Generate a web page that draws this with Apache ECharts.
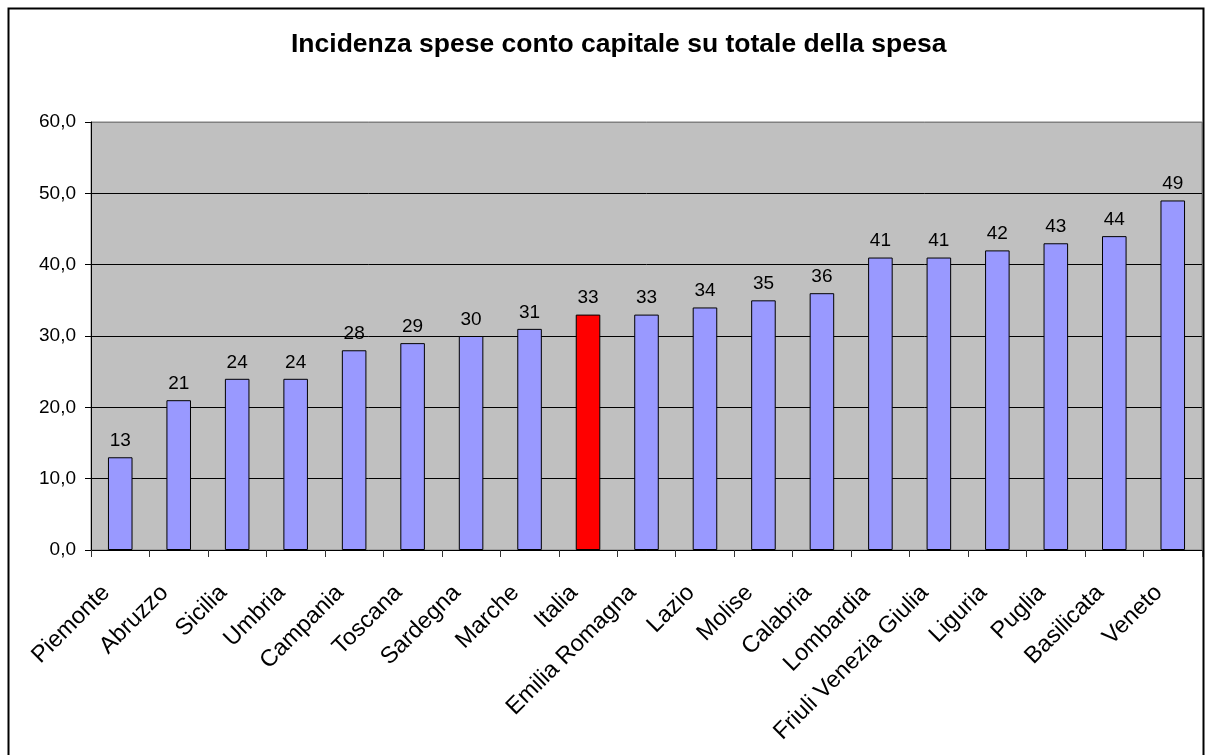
<!DOCTYPE html>
<html>
<head>
<meta charset="utf-8">
<script src="https://cdn.jsdelivr.net/npm/echarts@6/dist/echarts.min.js"></script>
<style>
html,body{margin:0;padding:0;background:#fff;}
#chart{width:1206px;height:755px;}
</style>
</head>
<body>
<div id="chart"></div>
<script>
const titleText = 'Incidenza spese conto capitale su totale della spesa';
const categories = ['Piemonte','Abruzzo','Sicilia','Umbria','Campania','Toscana','Sardegna','Marche','Italia','Emilia Romagna','Lazio','Molise','Calabria','Lombardia','Friuli Venezia Giulia','Liguria','Puglia','Basilicata','Veneto'];
const values = [13,21,24,24,28,29,30,31,33,33,34,35,36,41,41,42,43,44,49];
const highlighted = ['Italia'];

const chart = echarts.init(document.getElementById('chart'));
const font = 'Liberation Sans, Arial, sans-serif';
chart.setOption({
  animation: false,
  backgroundColor: '#fff',
  title: {
    text: titleText,
    left: 286,
    top: 26,
    textStyle: {fontFamily: font, fontSize: 26.5, fontWeight: 'bold', color: '#000'}
  },
  graphic: [{
    type: 'rect',
    shape: {x: 8.5, y: 8.5, width: 1195, height: 800},
    style: {fill: 'none', stroke: '#000', lineWidth: 2},
    silent: true
  }],
  grid: {
    left: 91, right: 4, top: 122, bottom: 205,
    show: true, backgroundColor: '#C0C0C0', borderColor: '#808080', borderWidth: 1
  },
  xAxis: {
    type: 'category',
    data: categories,
    axisLine: {lineStyle: {color: '#000', width: 1}},
    axisTick: {show: true, interval: 0, length: 7, lineStyle: {color: '#333'}},
    axisLabel: {interval: 0, rotate: 45, fontFamily: font, fontSize: 23.5, color: '#000',
      margin: 25, padding: [0, 20, 0, 0]}
  },
  yAxis: {
    type: 'value',
    min: 0, max: 60, interval: 10,
    axisLine: {show: true, lineStyle: {color: '#000'}},
    axisTick: {show: true, length: 6, lineStyle: {color: '#000'}},
    axisLabel: {fontFamily: font, fontSize: 19, color: '#000', margin: 15,
      formatter: v => v.toFixed(1).replace('.', ',')},
    splitLine: {show: true, lineStyle: {color: ['#000','#000','#000','#000','#000','#000','#808080'], width: 1}}
  },
  series: [{
    type: 'bar',
    data: values.map((v, i) => ({
      value: v,
      itemStyle: {color: highlighted.includes(categories[i]) ? '#FF0000' : '#9999FF'}
    })),
    barWidth: '42%',
    itemStyle: {borderColor: '#000', borderWidth: 1},
    label: {show: true, position: 'top', distance: 7, fontFamily: font, fontSize: 19, color: '#000'}
  }]
});
</script>
</body>
</html>
